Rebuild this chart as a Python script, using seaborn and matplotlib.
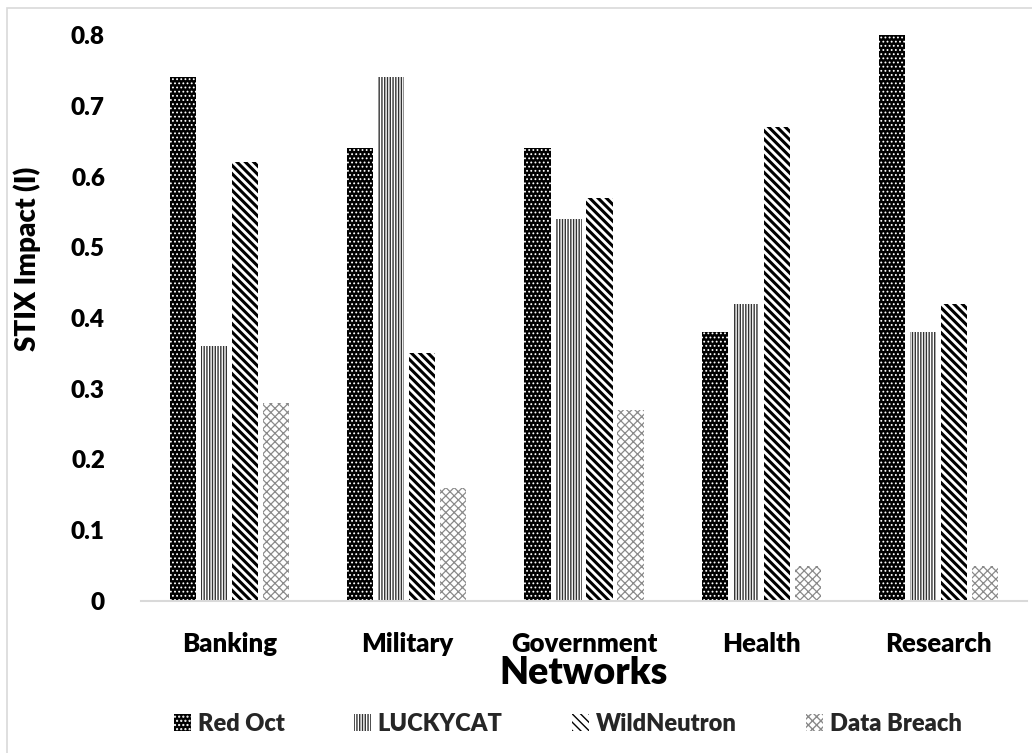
import matplotlib
matplotlib.use("Agg")
import matplotlib.pyplot as plt
import seaborn as sns
import pandas as pd
from matplotlib.patches import Patch, Rectangle

# Impact scores per network for each threat
networks = ["Banking", "Military", "Government", "Health", "Research"]
red_oct = [0.74, 0.64, 0.64, 0.38, 0.80]
luckycat = [0.36, 0.74, 0.54, 0.42, 0.38]
wild_neutron = [0.62, 0.35, 0.57, 0.67, 0.42]
data_breach = [0.28, 0.16, 0.27, 0.05, 0.05]
series_names = ["Red Oct", "LUCKYCAT", "WildNeutron", "Data Breach"]
y_ticks = [0, 0.1, 0.2, 0.3, 0.4, 0.5, 0.6, 0.7, 0.8]
y_tick_labels = ["0", "0.1", "0.2", "0.3", "0.4", "0.5", "0.6", "0.7", "0.8"]

rows = []
for name, vals in zip(series_names, [red_oct, luckycat, wild_neutron, data_breach]):
    for net, v in zip(networks, vals):
        rows.append({"Network": net, "Series": name, "Impact": v})
df = pd.DataFrame(rows)

sns.set_theme(style="white")
plt.rcParams["font.family"] = ["Lato", "DejaVu Sans"]
plt.rcParams["font.weight"] = "bold"
WEIGHT = "heavy"

# face, hatch colour, hatch pattern, hatch line width
styles = {
    "Red Oct": ("black", "white", "....", 0.8),
    "LUCKYCAT": ("white", "#333333", "||||||", 1.0),
    "WildNeutron": ("white", "black", "\\\\\\\\", 2.2),
    "Data Breach": ("white", "#8a8a8a", "xxxx", 0.9),
}

fig = plt.figure(figsize=(10.32, 7.53), dpi=100)
ax = fig.add_axes([141 / 1032, 1 - 601 / 753, 886 / 1032, 566 / 753])

sns.barplot(data=df, x="Network", y="Impact", hue="Series", order=networks,
            hue_order=series_names, width=0.7, gap=0.16, errorbar=None,
            legend=False, ax=ax, palette=["black"] * 4)


def style_patch(p, name):
    face, edge, hatch, hlw = styles[name]
    p.set_facecolor(face)
    p.set_edgecolor(edge)
    p.set_hatch(hatch)
    p.set_linewidth(0)
    if hasattr(p, "set_hatch_linewidth"):
        p.set_hatch_linewidth(hlw)


for cont, name in zip(ax.containers, series_names):
    for bar in cont:
        style_patch(bar, name)

ax.set_ylim(0, 0.8)
ax.set_xlim(-0.5, len(networks) - 0.5)
ax.set_yticks(y_ticks)
ax.set_yticklabels(y_tick_labels, fontsize=17.5, fontweight=WEIGHT, color="black")
ax.tick_params(axis="y", length=0, pad=26)
ax.tick_params(axis="x", length=0, pad=22, labelsize=18.5, labelcolor="black")
for lab in ax.get_xticklabels():
    lab.set_fontweight(WEIGHT)

for s in ["top", "right", "left"]:
    ax.spines[s].set_visible(False)
ax.spines["bottom"].set_color("#d9d9d9")
ax.spines["bottom"].set_linewidth(1.5)
ax.grid(False)

ax.set_xlabel("Networks", fontsize=27, fontweight=WEIGHT, color="black", labelpad=0)
ax.set_ylabel("STIX Impact (I)", fontsize=20, fontweight=WEIGHT, color="black")
ax.yaxis.set_label_coords(-0.113, 0.605)

handles = []
for name in series_names:
    face, edge, hatch, hlw = styles[name]
    h = Patch(facecolor=face, edgecolor=edge, hatch=hatch, linewidth=0, label=name)
    if hasattr(h, "set_hatch_linewidth"):
        h.set_hatch_linewidth(hlw)
    handles.append(h)
fig.legend(handles=handles, loc="center", bbox_to_anchor=(568 / 1032, 1 - 724 / 753),
           ncol=4, frameon=False, handlelength=0.7, handleheight=0.7,
           handletextpad=0.3, columnspacing=2.95,
           prop={"size": 17, "weight": WEIGHT})

# thin frame around the chart area
fig.add_artist(Rectangle((7 / 1032, -0.05), 1.1, 1 - 8 / 753 + 0.05,
                         transform=fig.transFigure, fill=False,
                         edgecolor="#d9d9d9", linewidth=1.2))

fig.savefig("out.png", dpi=100, facecolor="white")
